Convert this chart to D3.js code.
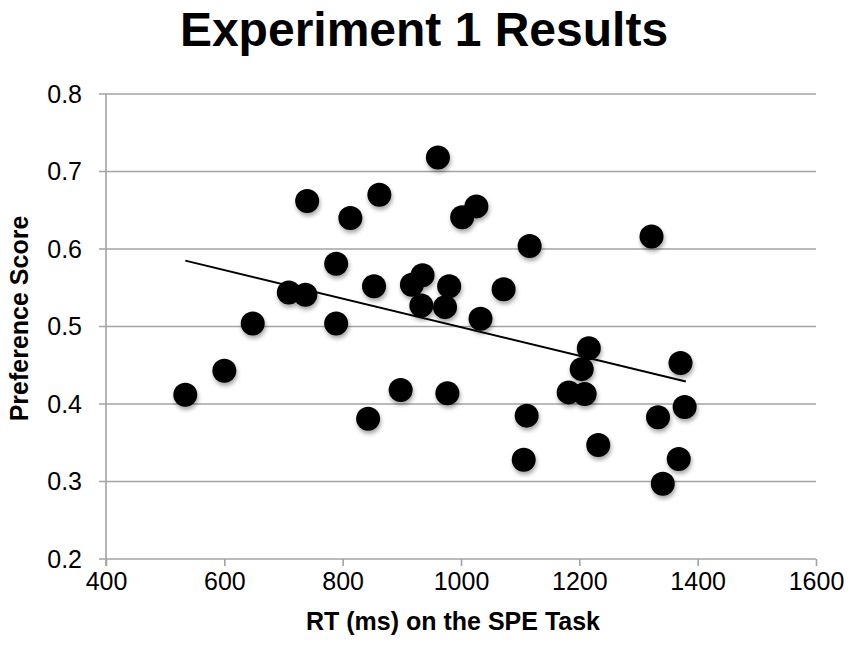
<!DOCTYPE html>
<html>
<head>
<meta charset="utf-8">
<script src="https://cdn.jsdelivr.net/npm/d3@7"></script>
<style>
  body { margin: 0; background: #fff; }
  svg { display: block; font-family: "Liberation Sans", Arial, sans-serif; }
</style>
</head>
<body>
<script>
// RT (ms) per participant
const rtValues = [534, 600, 648, 709, 737, 740, 789, 789, 813, 843, 853, 862, 898, 917, 933, 935,
	961, 973, 977, 980, 1002, 1026, 1033, 1072, 1106, 1111, 1116, 1182, 1204, 1209, 1216, 1232,
	1322, 1333, 1341, 1368, 1371, 1378];
// preference score per participant
const prefValues = [0.412, 0.443, 0.504, 0.544, 0.541, 0.662, 0.581, 0.504, 0.640, 0.381, 0.552, 0.670, 0.418, 0.554, 0.527, 0.566,
	0.718, 0.525, 0.414, 0.552, 0.641, 0.655, 0.510, 0.548, 0.328, 0.385, 0.604, 0.415, 0.445, 0.413, 0.472, 0.347,
	0.616, 0.383, 0.297, 0.329, 0.453, 0.396];
// linear trendline end points
const trendX = [534, 1380];
const trendY = [0.585, 0.429];

const xTicks = [400, 600, 800, 1000, 1200, 1400, 1600];
const yTicks = [0.2, 0.3, 0.4, 0.5, 0.6, 0.7, 0.8];

const width = 851, height = 652;
const margin = { top: 94, right: 35, bottom: 93, left: 106 };

const svg = d3.select("body").append("svg")
	.attr("width", width)
	.attr("height", height);

const defs = svg.append("defs");
defs.append("filter")
	.attr("id", "dotShadow")
	.attr("x", "-50%").attr("y", "-50%")
	.attr("width", "200%").attr("height", "200%")
	.append("feDropShadow")
	.attr("dx", 1)
	.attr("dy", 3)
	.attr("stdDeviation", 2)
	.attr("flood-color", "#000")
	.attr("flood-opacity", 0.35);

const x = d3.scaleLinear()
	.domain([400, 1600])
	.range([margin.left, width - margin.right]);

const y = d3.scaleLinear()
	.domain([0.2, 0.8])
	.range([height - margin.bottom, margin.top]);

const gridColor = "#a3a3a3";

// horizontal gridlines
svg.append("g")
	.selectAll("line")
	.data(yTicks)
	.join("line")
	.attr("x1", margin.left - 7)
	.attr("x2", x(1600))
	.attr("y1", d => y(d))
	.attr("y2", d => y(d))
	.attr("stroke", gridColor)
	.attr("stroke-width", 1.6);

// y axis
const yAxis = svg.append("g")
	.attr("transform", `translate(${margin.left},0)`)
	.call(d3.axisLeft(y).tickValues(yTicks).tickFormat(d3.format(".1f")).tickSize(7).tickPadding(17));
yAxis.select(".domain").remove();
yAxis.selectAll(".tick line").remove();
yAxis.append("line")
	.attr("x1", 0).attr("x2", 0)
	.attr("y1", y(0.8)).attr("y2", y(0.2) + 7)
	.attr("stroke", gridColor)
	.attr("stroke-width", 1.6);
yAxis.selectAll(".tick text")
	.attr("font-size", 25)
	.attr("font-family", "Liberation Sans, Arial, sans-serif")
	.attr("fill", "#000");

// x axis
const xAxis = svg.append("g")
	.attr("transform", `translate(0,${y(0.2)})`)
	.call(d3.axisBottom(x).tickValues(xTicks).tickFormat(d3.format("d")).tickSize(7).tickPadding(6));
xAxis.select(".domain").remove();
xAxis.selectAll(".tick line")
	.attr("stroke", gridColor)
	.attr("stroke-width", 1.6);
xAxis.selectAll(".tick text")
	.attr("font-size", 25)
	.attr("font-family", "Liberation Sans, Arial, sans-serif")
	.attr("fill", "#000");

// points
svg.append("g")
	.attr("filter", "url(#dotShadow)")
	.selectAll("circle")
	.data(rtValues.map((rt, i) => [rt, prefValues[i]]))
	.join("circle")
	.attr("cx", d => x(d[0]))
	.attr("cy", d => y(d[1]))
	.attr("r", 12)
	.attr("fill", "#000");

// trendline
svg.append("line")
	.attr("x1", x(trendX[0]))
	.attr("y1", y(trendY[0]))
	.attr("x2", x(trendX[1]))
	.attr("y2", y(trendY[1]))
	.attr("stroke", "#000")
	.attr("stroke-width", 2);

// title
svg.append("text")
	.attr("x", 424)
	.attr("y", 46)
	.attr("text-anchor", "middle")
	.attr("font-size", 48)
	.attr("font-weight", "bold")
	.text("Experiment 1 Results");

// axis titles
svg.append("text")
	.attr("x", 453)
	.attr("y", 630)
	.attr("text-anchor", "middle")
	.attr("font-size", 25)
	.attr("font-weight", "bold")
	.text("RT (ms) on the SPE Task");

svg.append("text")
	.attr("transform", `translate(28,${(y(0.2) + y(0.8)) / 2 - 8}) rotate(-90)`)
	.attr("text-anchor", "middle")
	.attr("font-size", 25)
	.attr("font-weight", "bold")
	.text("Preference Score");
</script>
</body>
</html>
